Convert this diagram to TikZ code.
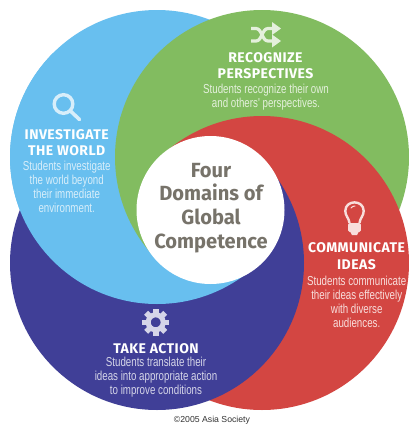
\documentclass[tikz,border=0pt]{standalone}
\usepackage{fontspec}
\setmainfont{Liberation Sans}
\newfontfamily\headf[LetterSpace=3.2]{Fira Sans}
\newfontfamily\bodyf[FakeStretch=0.75]{Liberation Sans}
\newfontfamily\centf[FakeStretch=0.98]{Fira Sans}
\definecolor{cblue}{HTML}{68BFEF}
\definecolor{cgreen}{HTML}{82BC60}
\definecolor{cred}{HTML}{D34642}
\definecolor{cpurple}{HTML}{403F97}
\definecolor{cgray}{HTML}{77736A}
\definecolor{tblue}{HTML}{D8EEFA}
\definecolor{tgreen}{HTML}{E4F0DC}
\definecolor{tred}{HTML}{F8DEDC}
\definecolor{tpurple}{HTML}{D5D5E8}
\newcommand\discP{\fill[cpurple] (157,263) circle (147);}
\newcommand\discB{\fill[cblue] (157,157) circle (147);}
\newcommand\discG{\fill[cgreen] (262,157) circle (147);}
\newcommand\discR{\fill[cred] (262,263) circle (147);}
\tikzset{
 head/.style={text=white,align=center,font=\headf\bfseries\fontsize{14}{16.5}\selectfont,inner sep=0pt},
 body/.style={text=#1,align=center,font=\bodyf\fontsize{13}{14}\selectfont,inner sep=0pt},
 mid/.style={text=cgray,align=center,font=\centf\bfseries\fontsize{20.5}{23.7}\selectfont,inner sep=0pt},
 copyr/.style={text=black!80,font=\fontsize{8.7}{10}\selectfont,inner sep=0pt},
}
\begin{document}
\begin{tikzpicture}[x=1pt,y=-1pt]
\useasboundingbox (0,0) rectangle (409,424);
\fill[white] (0,0) rectangle (409,424);
% pinwheel: blue, green, then red, purple, blue, green again, each clipped
% along a diagonal where its clip edge is hidden or meets its own colour
\discB \discG
\begin{scope}
\clip (210,210) -- (-390,-390) -- (810,-390) -- (810,810) -- (-390,810) -- cycle;
\discR
\end{scope}
\begin{scope}
\clip (210,210) -- (810,-390) -- (810,810) -- (-390,810) -- (-390,-390) -- cycle;
\discP
\end{scope}
\begin{scope}
\clip (210,210) -- (810,810) -- (-390,810) -- (-390,-390) -- cycle;
\discB
\end{scope}
\begin{scope}
\clip (214,210) -- (-386,810) -- (-390,810) -- (-390,-390) -- (-386,-390) -- cycle;
\discG
\end{scope}
\fill[white] (210.5,210) circle (74);
% icons
\draw[tblue,line width=3.4] (63.5,104) circle (9.3);
\draw[tblue,line width=3.6,line cap=round] (71,111.5) -- (79.5,119.5);
\draw[tgreen,line width=3.2] (251,28.5) -- (256,28.5) .. controls (262,28.5) and (262,41) .. (268,41) -- (273,41);
\draw[tgreen,line width=3.2] (251,41) -- (256,41) .. controls (262,41) and (262,28.5) .. (268,28.5) -- (273,28.5);
\fill[tgreen] (272,22) -- (281,28.5) -- (272,35) -- cycle;
\fill[tgreen] (272,34.5) -- (281,41) -- (272,47.5) -- cycle;
\draw[tred,line width=2.4] (349.5,223) .. controls (349,218) and (345.3,216) .. (345.3,211) .. controls (345.3,199.5) and (363.7,199.5) .. (363.7,211) .. controls (363.7,216) and (360,218) .. (359.5,223);
\draw[tred,line width=1,line cap=round] (351,208) .. controls (352,206.5) and (353.5,206) .. (355,206);
\fill[tred,rounded corners=1.5] (348.2,223) rectangle (360.8,232);
\fill[tred] (350,231) -- (359,231) -- (357,235) -- (352,235) -- cycle;
\begin{scope}[shift={(155.7,322.3)}]
\foreach \a in {0,45,...,315}{\fill[tpurple,rotate=\a] (-2.8,-13.5) rectangle (2.8,-8);}
\draw[tpurple,line width=5] (0,0) circle (7.5);
\end{scope}
% texts
\node[head] (t1) at (66.7,142.5) {INVESTIGATE\\THE WORLD};
\node[body=tblue] (b1) at (66.7,187) {Students investigate\\the world beyond\\their immediate\\environment.};
\node[head] (t2) at (265.5,65.5) {RECOGNIZE\\PERSPECTIVES};
\node[body=tgreen] (b2) at (266,97) {Students recognize their own\\and others' perspectives.};
\node[head] (t3) at (356.5,256) {COMMUNICATE\\IDEAS};
\node[body=tred] (b3) at (356.7,301.5) {Students communicate\\their ideas effectively\\with diverse\\audiences.};
\node[head] (t4) at (156,348.7) {TAKE ACTION};
\node[body=tpurple] (b4) at (156,377) {Students translate their\\ideas into appropriate action\\to improve conditions};
\node[mid] (m) at (211,208) {Four\\Domains of\\Global\\Competence};
\node[copyr] (c) at (212,420) {©2005 Asia Society};
\end{tikzpicture}
\end{document}
